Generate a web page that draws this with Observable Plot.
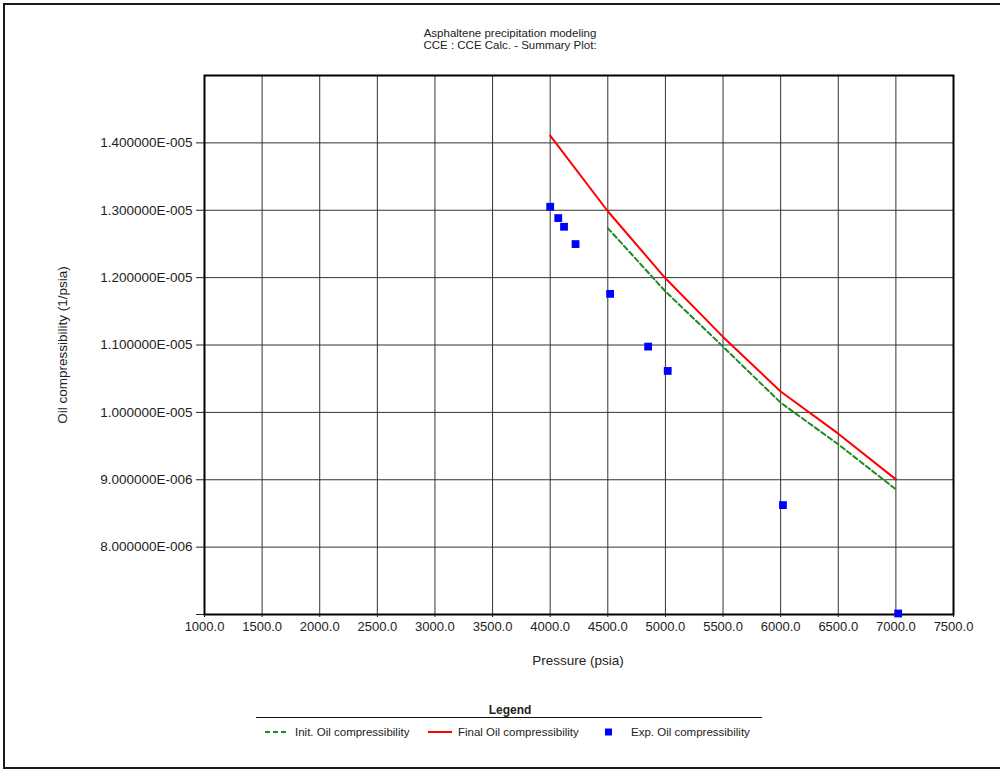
<!DOCTYPE html>
<html>
<head>
<meta charset="utf-8">
<script src="https://cdn.jsdelivr.net/npm/d3@7"></script>
<script src="https://cdn.jsdelivr.net/npm/@observablehq/plot@0.6"></script>
<style>
  html, body { margin: 0; padding: 0; background: #fff; }
  #wrap { position: relative; width: 1000px; height: 770px; overflow: hidden; font-family: "Liberation Sans", Arial, sans-serif; color: #222; }
  #border { position: absolute; left: 3px; top: 3px; width: 1010px; height: 762px; border: 2px solid #1a1a1a; box-sizing: content-box; }
  .t { position: absolute; white-space: nowrap; }
  #chart { position: absolute; left: 0; top: 0; }
  #title { left: 410px; width: 200px; top: 27px; text-align: center; font-size: 11.5px; line-height: 12px; }
  #xlabel { left: 478px; width: 200px; top: 653px; text-align: center; font-size: 13.5px; }
  #ylabel { left: 62px; top: 345px; font-size: 13.5px; transform: translate(-50%, -50%) rotate(-90deg); }
  #legtitle { left: 410px; width: 200px; top: 703px; text-align: center; font-size: 12px; font-weight: bold; }
  #legline { position: absolute; left: 256px; top: 717px; width: 506px; height: 0; border-top: 1.5px solid #111; }
  .lg { position: absolute; top: 725px; font-size: 11.5px; line-height: 14px; display: flex; align-items: center; }
  .lg svg { margin-right: 6px; }
</style>
</head>
<body>
<div id="wrap">
  <div id="chart"></div>
  <div id="border"></div>
  <div class="t" id="title">Asphaltene precipitation modeling<br>CCE : CCE Calc. - Summary Plot:</div>
  <div class="t" id="xlabel">Pressure (psia)</div>
  <div class="t" id="ylabel">Oil compressibility (1/psia)</div>
  <div class="t" id="legtitle">Legend</div>
  <div id="legline"></div>
  <div class="lg" style="left:265px"><svg width="24" height="6"><line x1="0" y1="3" x2="24" y2="3" stroke="#1f8a1f" stroke-width="2" stroke-dasharray="5,3"/></svg><span>Init. Oil compressibility</span></div>
  <div class="lg" style="left:428px"><svg width="24" height="6"><line x1="0" y1="3" x2="24" y2="3" stroke="#ff0000" stroke-width="2"/></svg><span>Final Oil compressibility</span></div>
  <div class="lg" style="left:604px"><svg width="16" height="8"><rect x="1" y="0.5" width="7" height="7" fill="#0000ff"/></svg><span style="margin-left:5px">Exp. Oil compressibility</span></div>
</div>
<script>
// ---- data ----
const initPressure = [4500, 5000, 5500, 6000, 6500, 7000];
const initOil = [1.2735e-5, 1.1795e-5, 1.0975e-5, 1.0144e-5, 9.526e-6, 8.857e-6];

const finalPressure = [4000, 4500, 5000, 5500, 6000, 6500, 7000];
const finalOil = [1.4107e-5, 1.2985e-5, 1.1990e-5, 1.1120e-5, 1.0310e-5, 9.684e-6, 9.006e-6];

const expPressure = [4000, 4070, 4120, 4220, 4520, 4850, 5020, 6020, 7020];
const expOil = [1.3052e-5, 1.2884e-5, 1.2755e-5, 1.2498e-5, 1.1759e-5, 1.0976e-5, 1.0615e-5, 8.624e-6, 7.015e-6];

const xTicks = [1000, 1500, 2000, 2500, 3000, 3500, 4000, 4500, 5000, 5500, 6000, 6500, 7000, 7500];
const yTicks = [7e-6, 8e-6, 9e-6, 1.0e-5, 1.1e-5, 1.2e-5, 1.3e-5, 1.4e-5];
const yLabeledFrom = 8e-6;

// ---- build ----
const init = initPressure.map((p, i) => ({p, v: initOil[i]}));
const fin = finalPressure.map((p, i) => ({p, v: finalOil[i]}));
const exp = expPressure.map((p, i) => ({p, v: expOil[i]}));

const fmtY = v => {
  if (v < yLabeledFrom * 0.999) return "";
  const [m, e] = v.toExponential(6).split("e");
  const ex = parseInt(e, 10);
  return m + "E" + (ex < 0 ? "-" : "+") + String(Math.abs(ex)).padStart(3, "0");
};

const chart = Plot.plot({
  width: 1000,
  height: 690,
  marginLeft: 204,
  marginRight: 47,
  marginTop: 75,
  marginBottom: 76,
  style: {fontFamily: "'Liberation Sans', Arial, sans-serif", fontSize: "13px", color: "#222", background: "transparent"},
  x: {domain: [1000, 7500]},
  y: {domain: [7e-6, 1.5e-5]},
  marks: [
    Plot.gridX(xTicks, {stroke: "#333", strokeOpacity: 1, strokeWidth: 1}),
    Plot.gridY(yTicks, {stroke: "#333", strokeOpacity: 1, strokeWidth: 1}),
    Plot.axisX(xTicks, {tickSize: 3, tickPadding: 4, tickFormat: d => d.toFixed(1), label: null, stroke: "#222", fill: "#222", fontSize: 13}),
    Plot.axisY(yTicks, {tickSize: 8, tickPadding: 4, tickFormat: fmtY, label: null, stroke: "#222", fill: "#222", fontSize: 13.5}),
    Plot.frame({stroke: "#000", strokeWidth: 2}),
    Plot.line(init, {x: "p", y: "v", stroke: "#1f8a1f", strokeWidth: 2, strokeDasharray: "5,3"}),
    Plot.line(fin, {x: "p", y: "v", stroke: "#ff0000", strokeWidth: 2}),
    Plot.dot(exp, {x: "p", y: "v", symbol: "square", r: 4.4, fill: "#0000ff", stroke: "none"})
  ]
});
document.getElementById("chart").appendChild(chart);
</script>
</body>
</html>
